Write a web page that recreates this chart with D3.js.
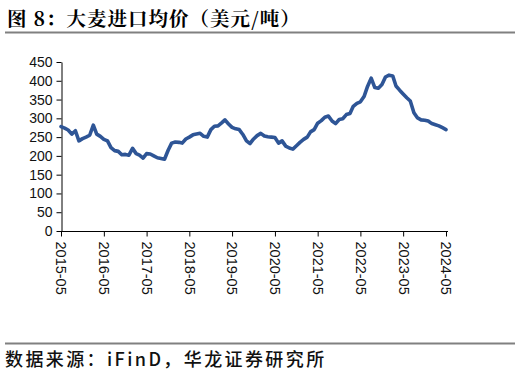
<!DOCTYPE html>
<html>
<head>
<meta charset="utf-8">
<script src="https://cdn.jsdelivr.net/npm/d3@7"></script>
<style>
  html, body { margin: 0; padding: 0; background: #fff; }
  svg { display: block; }
</style>
</head>
<body>
<div id="chart"></div>
<script>
// Barley import average price, USD/ton, monthly from 2015-05
const startMonth = '2015-05';
const prices = [
  278, 274, 269, 258, 267, 240, 246, 250, 255, 282,
  258, 252, 244, 240, 222, 214, 212, 203, 204, 202,
  220, 206, 202, 194, 206, 205, 200, 195, 193, 191,
  215, 234, 237, 236, 234, 245, 250, 256, 258, 260,
  252, 250, 270, 279, 280, 288, 296, 285, 276, 272,
  270, 257, 240, 233, 245, 254, 260, 253, 251, 250,
  249, 234, 240, 226, 221, 218, 227, 236, 244, 250,
  264, 270, 287, 294, 303, 306, 293, 286, 297, 299,
  310, 313, 332, 340, 344, 358, 385, 407, 382, 380,
  390, 410, 415, 413, 386, 375, 365, 355, 346, 315,
  301, 296, 295, 293, 286, 283, 280, 275, 270
];
const yTicks = [0, 50, 100, 150, 200, 250, 300, 350, 400, 450];
const xTickLabels = ['2015-05', '2016-05', '2017-05', '2018-05', '2019-05',
  '2020-05', '2021-05', '2022-05', '2023-05', '2024-05'];

const titleText = '图 8：大麦进口均价（美元/吨）';
const sourceText = '数据来源：iFinD，华龙证券研究所';

const width = 520;
const height = 376;

const parseMonth = d3.timeParse('%Y-%m');
const t0 = parseMonth(startMonth);
const series = prices.map((v, i) => ({ date: d3.timeMonth.offset(t0, i), value: v }));

const svg = d3.select('#chart')
  .append('svg')
  .attr('width', width)
  .attr('height', height)
  .attr('viewBox', `0 0 ${width} ${height}`);

// title + rule
svg.append('text')
  .attr('x', 7)
  .attr('y', 26)
  .attr('font-family', '"Noto Serif CJK SC", "Noto Sans CJK SC", serif')
  .attr('font-weight', 'bold')
  .attr('font-size', 19.5)
  .attr('letter-spacing', 1)
  .attr('fill', '#000')
  .text(titleText);

svg.append('line')
  .attr('x1', 5).attr('x2', 515)
  .attr('y1', 32.5).attr('y2', 32.5)
  .attr('stroke', '#808080')
  .attr('stroke-width', 2);

// scales
const x = d3.scaleTime()
  .domain([parseMonth(xTickLabels[0]), parseMonth(xTickLabels[xTickLabels.length - 1])])
  .range([61, 446]);

const y = d3.scaleLinear()
  .domain([0, 450])
  .range([231, 62]);

const axisFont = '"Liberation Sans", Arial, sans-serif';

// y axis
const yAxisG = svg.append('g')
  .attr('transform', 'translate(61.5,0)')
  .call(d3.axisLeft(y).tickValues(yTicks).tickSize(5).tickSizeOuter(0).tickPadding(4));

// x axis
const xAxisG = svg.append('g')
  .attr('transform', 'translate(0,231.5)')
  .call(d3.axisBottom(x)
    .tickValues(xTickLabels.map(parseMonth))
    .tickFormat((d, i) => xTickLabels[i])
    .tickSize(5)
    .tickSizeOuter(0));

xAxisG.select('.domain').attr('d', `M${x.range()[0]},0H${x.range()[1] + 2}`);

xAxisG.selectAll('text')
  .attr('transform', 'rotate(90)')
  .attr('x', 10)
  .attr('y', 0)
  .attr('dy', '0.35em')
  .style('text-anchor', 'start');

[yAxisG, xAxisG].forEach(g => {
  g.selectAll('.domain, .tick line').attr('stroke', '#000').attr('stroke-width', 1);
  g.selectAll('text')
    .attr('font-family', axisFont)
    .attr('font-size', 14)
    .attr('fill', '#111');
});
xAxisG.selectAll('text').attr('font-size', 14.5);

// price line
const line = d3.line()
  .x(d => x(d.date))
  .y(d => y(d.value));

svg.append('path')
  .datum(series)
  .attr('fill', 'none')
  .attr('stroke', '#2E5596')
  .attr('stroke-width', 3.6)
  .attr('stroke-linejoin', 'round')
  .attr('stroke-linecap', 'round')
  .attr('d', line);

// source + rule
svg.append('line')
  .attr('x1', 5).attr('x2', 515)
  .attr('y1', 343.5).attr('y2', 343.5)
  .attr('stroke', '#808080')
  .attr('stroke-width', 2);

svg.append('text')
  .attr('x', 5)
  .attr('y', 366)
  .attr('font-family', '"Noto Sans CJK SC", sans-serif')
  .attr('font-weight', 500)
  .attr('font-size', 18)
  .attr('letter-spacing', 2.4)
  .attr('fill', '#111')
  .text(sourceText);
</script>
</body>
</html>
